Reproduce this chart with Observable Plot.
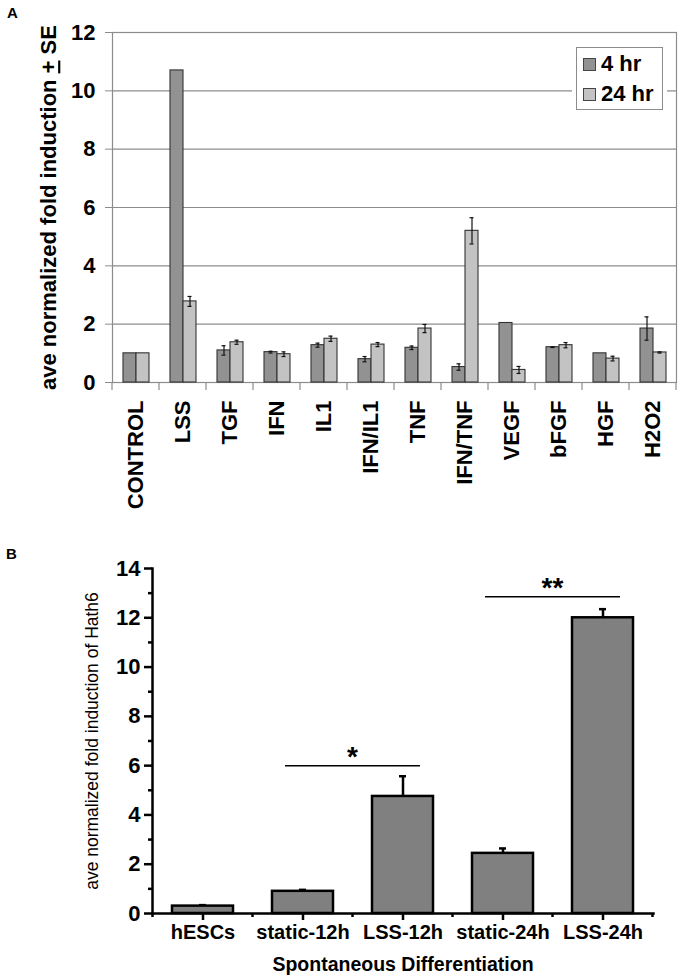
<!DOCTYPE html>
<html>
<head>
<meta charset="utf-8">
<script src="https://cdn.jsdelivr.net/npm/d3@7"></script>
<script src="https://cdn.jsdelivr.net/npm/@observablehq/plot@0.6"></script>
<style>
  body { margin: 0; background: #fff; font-family: "Liberation Sans", Arial, sans-serif; }
  #wrap { position: relative; width: 690px; height: 979px; overflow: hidden; }
  .abs { position: absolute; }
  .tag { position: absolute; font-weight: bold; font-size: 15px; color: #000; }
  .legend { position: absolute; background: #fff; border: 1px solid #8c8c8c; box-shadow: 0 0 0 4px #fff; box-sizing: border-box; }
  .legend .row { position: absolute; left: 6px; display: flex; align-items: center; font-weight: bold; font-size: 22px; line-height: 22px; }
  .legend .sw { width: 13px; height: 13px; border: 1px solid #444; margin-right: 5px; box-sizing: border-box; }
</style>
</head>
<body>
<div id="wrap">
  <div id="pa" class="abs" style="left:0;top:0"></div>
  <div id="pb" class="abs" style="left:0;top:560px"></div>
  <div class="tag" style="left:7px;top:4px">A</div>
  <div class="tag" style="left:6px;top:545px">B</div>
</div>
<script>
// ---------- Panel A data ----------
const categoriesA = ["CONTROL","LSS","TGF","IFN","IL1","IFN/IL1","TNF","IFN/TNF","VEGF","bFGF","HGF","H2O2"];
const seriesA = ["4 hr","24 hr"];
const colorsA = ["#929292","#c3c3c3"];
const values4hr  = [1.0, 10.7, 1.1, 1.04, 1.28, 0.8, 1.19, 0.53, 2.04, 1.21, 1.0, 1.85];
const errors4hr  = [0, 0, 0.16, 0.03, 0.07, 0.09, 0.06, 0.11, 0, 0.01, 0, 0.4];
const values24hr = [1.0, 2.78, 1.38, 0.97, 1.5, 1.3, 1.85, 5.2, 0.43, 1.28, 0.82, 1.03];
const errors24hr = [0, 0.17, 0.07, 0.08, 0.09, 0.07, 0.14, 0.45, 0.12, 0.09, 0.08, 0.02];
const yTicksA = [0, 2, 4, 6, 8, 10, 12];
const yLabelA = "ave normalized fold induction + SE";

// ---------- Panel B data ----------
const groupsB = ["hESCs","static-12h","LSS-12h","static-24h","LSS-24h"];
const valuesB = [0.3, 0.9, 4.75, 2.44, 12.0];
const errorsB = [0.04, 0.06, 0.82, 0.2, 0.35];
const sigFrom = ["static-12h","static-24h"];
const sigTo   = ["LSS-12h","LSS-24h"];
const sigY    = [6.0, 12.85];
const sigText = ["*","**"];
const yMajorB = [0, 2, 4, 6, 8, 10, 12, 14];
const yMinorB = [1, 3, 5, 7, 9, 11, 13];
const yLabelB = "ave normalized fold induction of Hath6";
const xLabelB = "Spontaneous Differentiation";

const FONT = '"Liberation Sans", Arial, sans-serif';

// ---------- build tables ----------
const dataA = [];
categoriesA.forEach((c, i) => {
  dataA.push({category: c, series: seriesA[0], value: values4hr[i], err: errors4hr[i]});
  dataA.push({category: c, series: seriesA[1], value: values24hr[i], err: errors24hr[i]});
});
const errA = dataA.filter(d => d.err > 0).map(d => ({...d, lo: d.value - d.err, hi: d.value + d.err}));

const dataB = groupsB.map((g, i) => ({group: g, value: valuesB[i], err: errorsB[i], hi: valuesB[i] + errorsB[i]}));
const sigB = sigFrom.map((f, i) => ({from: f, to: sigTo[i], y: sigY[i], text: sigText[i]}));

function svgOf(p) { return p.tagName.toLowerCase() === "svg" ? p : p.querySelector("svg"); }

// underline the "+" in a label, keeping Plot's own positioning attributes
function underlinePlus(p, label) {
  const root = svgOf(p);
  const walker = document.createTreeWalker(root, NodeFilter.SHOW_TEXT);
  const hits = [];
  while (walker.nextNode()) if (walker.currentNode.nodeValue === label) hits.push(walker.currentNode);
  hits.forEach(node => {
    const parts = label.split("+");
    const parent = node.parentNode;
    const ns = "http://www.w3.org/2000/svg";
    const u = document.createElementNS(ns, "tspan");
    u.setAttribute("text-decoration", "underline");
    u.style.textDecoration = "underline";
    u.textContent = "+";
    parent.insertBefore(document.createTextNode(parts[0]), node);
    parent.insertBefore(u, node);
    parent.insertBefore(document.createTextNode(parts[1]), node);
    parent.removeChild(node);
  });
}

// ---------- Panel A ----------
const GRID = "#8c8c8c";
const plotA = Plot.plot({
  width: 690, height: 560,
  marginLeft: 107, marginRight: 9, marginTop: 32, marginBottom: 178,
  style: {fontFamily: FONT, background: "transparent", color: "#000", overflow: "visible"},
  fx: {domain: categoriesA, padding: 0},
  x: {domain: seriesA, paddingInner: 0, paddingOuter: 0.71, axis: null},
  y: {domain: [0, 12]},
  color: {domain: seriesA, range: colorsA},
  marks: [
    Plot.ruleY(yTicksA, {stroke: GRID, strokeWidth: 1.2}),
    Plot.frame({facet: "super", stroke: GRID, strokeWidth: 1.2}),
    Plot.barY(dataA, {fx: "category", x: "series", y: "value", fill: "series", stroke: "#333", strokeWidth: 1.1}),
    Plot.ruleX(errA, {fx: "category", x: "series", y1: "lo", y2: "hi", stroke: "#111", strokeWidth: 1.2}),
    Plot.tickY(errA, {fx: "category", x: "series", y: "lo", insetLeft: 4.5, insetRight: 4.5, stroke: "#111", strokeWidth: 1.2}),
    Plot.tickY(errA, {fx: "category", x: "series", y: "hi", insetLeft: 4.5, insetRight: 4.5, stroke: "#111", strokeWidth: 1.2}),
    Plot.axisY({ticks: yTicksA, tickSize: 7, tickPadding: 10, fontSize: 22, fontWeight: "bold", stroke: GRID,
                label: yLabelA, labelArrow: "none", labelAnchor: "center", labelOffset: 72}),
    Plot.axisFx({anchor: "bottom", tickSize: 0, tickPadding: 18, tickRotate: -90, fontSize: 22, fontWeight: "bold", label: null})
  ]
});
document.getElementById("pa").appendChild(plotA);

{
  const svg = d3.select(svgOf(plotA));
  const fx = plotA.scale("fx"), y = plotA.scale("y");
  const y0 = y.apply(0);
  const edges = categoriesA.map(c => fx.apply(c)).concat([fx.apply(categoriesA[categoriesA.length - 1]) + fx.bandwidth]);
  svg.append("g").selectAll("line").data(edges).join("line")
    .attr("x1", d => d).attr("x2", d => d).attr("y1", y0).attr("y2", y0 + 8)
    .attr("stroke", GRID).attr("stroke-width", 1.2);
  underlinePlus(plotA, yLabelA);
}

// legend (HTML, from seriesA / colorsA)
{
  const lg = document.createElement("div");
  lg.className = "legend";
  Object.assign(lg.style, {left: "576px", top: "47px", width: "87px", height: "63px"});
  seriesA.forEach((s, i) => {
    const row = document.createElement("div");
    row.className = "row";
    row.style.top = (i === 0 ? 5 : 35) + "px";
    const sw = document.createElement("span");
    sw.className = "sw";
    sw.style.background = colorsA[i];
    const tx = document.createElement("span");
    tx.textContent = s;
    row.appendChild(sw); row.appendChild(tx);
    lg.appendChild(row);
  });
  document.getElementById("wrap").appendChild(lg);
}

// ---------- Panel B ----------
const plotB = Plot.plot({
  width: 690, height: 419,
  marginLeft: 152, marginRight: 37, marginTop: 8, marginBottom: 66,
  style: {fontFamily: FONT, background: "transparent", color: "#000", overflow: "visible"},
  x: {domain: groupsB, paddingInner: 0.39, paddingOuter: 0.195},
  y: {domain: [0, 14]},
  marks: [
    Plot.ruleX(dataB, {x: "group", y1: "value", y2: "hi", stroke: "#000", strokeWidth: 2.5}),
    Plot.tickY(dataB, {x: "group", y: "hi", insetLeft: 27, insetRight: 27, stroke: "#000", strokeWidth: 2.5}),
    Plot.barY(dataB, {x: "group", y: "value", fill: "#808080", stroke: "#000", strokeWidth: 2.5}),
    Plot.ruleY(sigB, {x1: "from", x2: "to", y: "y", insetLeft: 13, insetRight: 13, stroke: "#000", strokeWidth: 1.5}),
    Plot.axisY({ticks: yMajorB, tickSize: 8, tickPadding: 4, fontSize: 22, fontWeight: "bold", strokeWidth: 2.5, label: null}),
    Plot.axisY({ticks: yMinorB, tickSize: 4, text: null, strokeWidth: 2.5, label: null}),
    Plot.axisY({ticks: [], tickSize: 0, label: yLabelB, labelArrow: "none", labelAnchor: "center", labelOffset: 67, fontSize: 17.5}),
    Plot.axisX({tickSize: 7, tickPadding: 4, fontSize: 20, fontWeight: "bold", strokeWidth: 2.5, label: null}),
    Plot.axisX({ticks: [], tickSize: 0, label: xLabelB, labelArrow: "none", labelAnchor: "center", labelOffset: 57, fontSize: 19.5, fontWeight: "bold"}),
    Plot.frame({anchor: "left", stroke: "#000", strokeWidth: 2.5}),
    Plot.frame({anchor: "bottom", stroke: "#000", strokeWidth: 2.5})
  ]
});
document.getElementById("pb").appendChild(plotB);

{
  const svg = d3.select(svgOf(plotB));
  const x = plotB.scale("x"), y = plotB.scale("y");
  const y0 = y.apply(0);
  const step = x.step;
  const centers = groupsB.map(g => x.apply(g) + x.bandwidth / 2);
  const edges = centers.map(c => c - step / 2).concat([centers[centers.length - 1] + step / 2]);
  svg.append("g").selectAll("line").data(edges).join("line")
    .attr("x1", d => d).attr("x2", d => d).attr("y1", y0).attr("y2", y0 + 4)
    .attr("stroke", "#000").attr("stroke-width", 2.5);
  svg.append("g").selectAll("text").data(sigB).join("text")
    .attr("x", d => (x.apply(d.from) + x.apply(d.to) + x.bandwidth) / 2)
    .attr("y", d => y.apply(d.y) + 1)
    .attr("text-anchor", "middle")
    .attr("font-family", FONT).attr("font-weight", "bold").attr("font-size", 28)
    .text(d => d.text);
}
</script>
</body>
</html>
